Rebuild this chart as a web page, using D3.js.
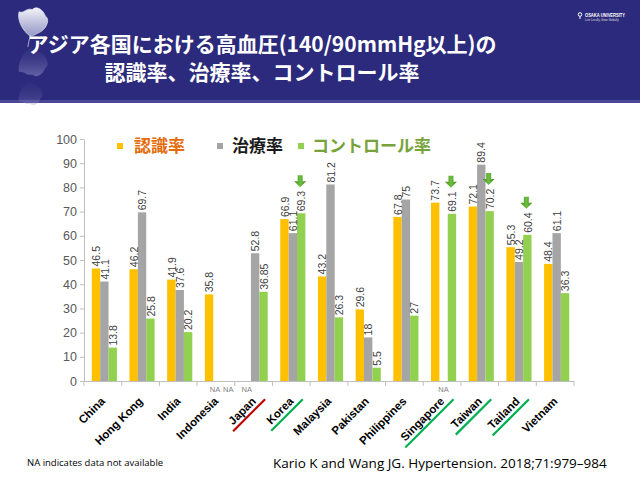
<!DOCTYPE html>
<html><head><meta charset="utf-8">
<script src="https://cdn.jsdelivr.net/npm/d3@7"></script>
<style>
html,body{margin:0;padding:0;background:#fff;}
svg{display:block;}
</style></head>
<body>
<svg id="c" width="640" height="480"></svg>
<script>
const categories = ["China","Hong Kong","India","Indonesia","Japan","Korea","Malaysia","Pakistan","Philippines","Singapore","Taiwan","Tailand","Vietnam"];
const awareness = [46.5,46.2,41.9,35.8,null,66.9,43.2,29.6,67.8,73.7,72.1,55.3,48.4];
const treatment = [41.1,69.7,37.6,null,52.8,61.1,81.2,18,75,null,89.4,49.2,61.1];
const control   = [13.8,25.8,20.2,null,36.85,69.3,26.3,5.5,27,69.1,70.2,60.4,36.3];
const seriesKeys = ["awareness","treatment","control"];
const seriesNames = ["認識率","治療率","コントロール率"];
const yTicks = [0,10,20,30,40,50,60,70,80,90,100];
const arrowCountries = ["Korea","Singapore","Taiwan","Tailand"];
const underlineCountries = ["Japan","Korea","Singapore","Taiwan","Tailand"];
const underlineKinds = ["bad","good","good","good","good"];
const titleLines = ["アジア各国における高血圧(140/90mmHg以上)の","認識率、治療率、コントロール率"];
const footNote = "NA indicates data not available";
const citation = "Kario K and Wang JG. Hypertension. 2018;71:979–984";

const barColors = ["#FFC000","#A5A5A5","#92D050"];
const legendText = ["#E46C0A","#1a1a1a","#77A33A"];
const seriesData = [awareness, treatment, control];

const svg = d3.select("#c");
const jp = "'Noto Sans CJK JP','Noto Sans',sans-serif";
const ar = "'Liberation Sans',Arial,sans-serif";

// ===== Header =====
const defs = svg.append("defs");
const lg = defs.append("linearGradient").attr("id","leafG").attr("x1",0).attr("y1",0).attr("x2",0).attr("y2",1);
lg.append("stop").attr("offset",0).attr("stop-color","#ffffff").attr("stop-opacity",0.95);
lg.append("stop").attr("offset",1).attr("stop-color","#9aa0d0").attr("stop-opacity",0.7);
const lg2 = defs.append("linearGradient").attr("id","leafR").attr("x1",0).attr("y1",0).attr("x2",0).attr("y2",1);
lg2.append("stop").attr("offset",0).attr("stop-color","#8e8fc8").attr("stop-opacity",0.55);
lg2.append("stop").attr("offset",1).attr("stop-color","#2b2a7a").attr("stop-opacity",0);
const ag = defs.append("linearGradient").attr("id","arrowG").attr("x1",0).attr("y1",0).attr("x2",1).attr("y2",0);
ag.append("stop").attr("offset",0).attr("stop-color","#3f8a1f");
ag.append("stop").attr("offset",0.5).attr("stop-color","#6fc040");
ag.append("stop").attr("offset",1).attr("stop-color","#3f8a1f");

svg.append("rect").attr("x",0).attr("y",0).attr("width",640).attr("height",103).attr("fill","#2C2A7C");
svg.append("rect").attr("x",0).attr("y",100).attr("width",640).attr("height",3).attr("fill","#4a4896");

// ginkgo leaves (decor)
const leafPath = "M0,0 C-6,-4 -12,-14 -10,-22 C-6,-20 -3,-26 2,-24 C6,-28 12,-24 14,-18 C18,-16 16,-8 10,-4 C6,-2 3,0 0,0 Z M0,0 L-2,10";
svg.append("path").attr("d",leafPath).attr("transform","translate(30,36) scale(1.1)")
  .attr("fill","url(#leafG)").attr("stroke","#e8e8f4").attr("stroke-width",0.6);
svg.append("path").attr("d",leafPath).attr("transform","translate(30,48) scale(1.1,-1.1)")
  .attr("fill","url(#leafR)");
svg.append("path").attr("d",leafPath).attr("transform","translate(28,82) scale(0.9,-0.9)")
  .attr("fill","url(#leafR)").attr("opacity",0.6);

// logo
svg.append("circle").attr("cx",580).attr("cy",14.5).attr("r",1.8).attr("fill","none").attr("stroke","#fff").attr("stroke-width",1);
svg.append("line").attr("x1",580).attr("y1",16.3).attr("x2",580).attr("y2",19).attr("stroke","#fff").attr("stroke-width",1);
svg.append("text").attr("x",585).attr("y",17).text("OSAKA UNIVERSITY")
  .attr("font-family",ar).attr("font-size",4.6).attr("font-weight","bold").attr("fill","#fff")
  .attr("textLength",40).attr("lengthAdjust","spacingAndGlyphs");
svg.append("text").attr("x",585).attr("y",21).text("Live Locally, Grow Globally")
  .attr("font-family",ar).attr("font-size",2.8).attr("fill","#ddd");

svg.selectAll("text.title").data(titleLines).join("text").attr("class","title")
  .attr("x",262).attr("y",(d,i)=>52+i*28).attr("text-anchor","middle")
  .attr("font-family",jp).attr("font-weight","bold").attr("font-size",21)
  .attr("fill","#fff").text(d=>d);

// ===== Chart =====
const x = d3.scaleBand().domain(categories).range([84,574]).paddingInner(0).paddingOuter(0);
const xs = d3.scaleBand().domain(seriesKeys).range([0,x.bandwidth()]).paddingInner(0).paddingOuter(0.75).align(0.62);
const y = d3.scaleLinear().domain([0,100]).range([381,139]);

// Y axis
const yAxis = svg.append("g").attr("transform","translate(84,0)")
  .call(d3.axisLeft(y).tickValues(yTicks).tickSize(4).tickPadding(3).tickSizeOuter(0));
yAxis.select(".domain").attr("stroke","#bfbfbf");
yAxis.selectAll(".tick line").attr("stroke","#bfbfbf");
yAxis.selectAll(".tick text").attr("font-family",ar).attr("font-size",12.5).attr("fill","#595959");

// bars
const flat = [];
categories.forEach((c,i)=>{
  const nulls = seriesKeys.map((k,j)=>seriesData[j][i]===null ? j : -1).filter(j=>j>=0);
  const mid = nulls.length ? d3.mean(nulls) : 0;
  seriesKeys.forEach((k,j)=>{
    flat.push({c, k, j, v: seriesData[j][i], spread: (j-mid)});
  });
});
svg.append("g").selectAll("rect").data(flat.filter(d=>d.v!==null)).join("rect")
  .attr("x",d=>x(d.c)+xs(d.k)).attr("width",xs.bandwidth())
  .attr("y",d=>y(d.v)).attr("height",d=>y(0)-y(d.v))
  .attr("fill",d=>barColors[d.j]);

// value labels
svg.append("g").selectAll("text").data(flat.filter(d=>d.v!==null)).join("text")
  .attr("transform",d=>`translate(${x(d.c)+xs(d.k)+xs.bandwidth()/2+0.5},${y(d.v)-2}) rotate(-90)`)
  .attr("dy","0.35em").attr("font-family",ar).attr("font-size",10.5).attr("fill","#404040")
  .text(d=>String(d.v));

// NA labels
svg.append("g").selectAll("text").data(flat.filter(d=>d.v===null)).join("text")
  .attr("x",d=>x(d.c)+xs(d.k)+xs.bandwidth()/2 + d.spread*5).attr("y",392).attr("text-anchor","middle")
  .attr("font-family",ar).attr("font-size",7.5).attr("fill","#7f7f7f").text("NA");

// X axis
const xg = svg.append("g");
xg.append("line").attr("x1",84).attr("x2",574).attr("y1",381.5).attr("y2",381.5).attr("stroke","#bfbfbf");
xg.selectAll("line.t").data(categories.concat(["__end"])).join("line").attr("class","t")
  .attr("x1",(d,i)=>i<categories.length? x(d): x.range()[1])
  .attr("x2",(d,i)=>i<categories.length? x(d): x.range()[1])
  .attr("y1",381).attr("y2",386).attr("stroke","#bfbfbf");

const lab = xg.selectAll("g.lab").data(categories).join("g").attr("class","lab")
  .attr("transform",d=>`translate(${x(d)+x.bandwidth()/2+3},${402}) rotate(-45)`);
lab.append("text").attr("text-anchor","end").attr("font-family",ar).attr("font-weight","bold")
  .attr("font-size",11.5).attr("fill","#000").text(d=>d);
lab.each(function(d){
  const k = underlineCountries.indexOf(d);
  if(k<0) return;
  const len = this.querySelector("text").getComputedTextLength();
  d3.select(this).append("line").attr("x1",-len-4).attr("x2",8).attr("y1",4).attr("y2",4)
    .attr("stroke",underlineKinds[k]==="bad"?"#C00000":"#00B050").attr("stroke-width",2.2);
});

// arrows
svg.append("g").selectAll("path").data(arrowCountries).join("path")
  .attr("transform",d=>{
    const i = categories.indexOf(d);
    const cx = x(d)+xs("control")+xs.bandwidth()/2 - 1;
    return `translate(${cx},${y(control[i])-26})`;
  })
  .attr("d","M-2.5,-12 L2.5,-12 L2.5,-6 L6,-6 L0,0 L-6,-6 L-2.5,-6 Z")
  .attr("fill","url(#arrowG)");

// legend
const legX = [117,217,298];
const legTX = [134,232,312];
const leg = svg.append("g");
seriesNames.forEach((n,i)=>{
  leg.append("rect").attr("x",legX[i]).attr("y",143).attr("width",6).attr("height",6).attr("fill",barColors[i]);
  leg.append("text").attr("x",legTX[i]).attr("y",152).attr("font-family",jp).attr("font-weight","bold")
    .attr("font-size",17).attr("fill",legendText[i]).text(n);
});

// footer
svg.append("text").attr("x",27).attr("y",466).attr("font-family","'Open Sans',sans-serif")
  .attr("font-size",9.5).attr("fill","#000").text(footNote);
svg.append("text").attr("x",273).attr("y",468).attr("font-family","'Open Sans',sans-serif")
  .attr("font-size",13.5).attr("fill","#000").text(citation);
</script>
</body></html>
